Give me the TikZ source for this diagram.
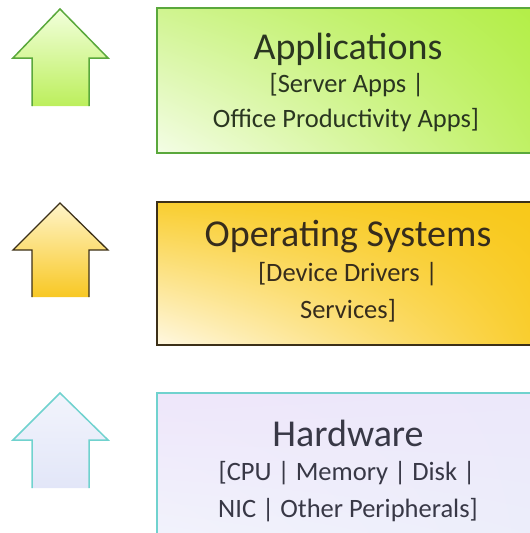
\documentclass[tikz,border=0pt]{standalone}
\usepackage{fontspec}
\setmainfont{Carlito}
\usetikzlibrary{shadings}
\definecolor{gborder}{HTML}{5AA83C}
\definecolor{oborder}{HTML}{3C3018}
\definecolor{bborder}{HTML}{70D2CE}
\definecolor{gtext}{HTML}{2A3620}
\definecolor{otext}{HTML}{362C1C}
\definecolor{btext}{HTML}{383846}
\definecolor{gUL}{HTML}{D0F490}
\definecolor{gUR}{HTML}{B2EE44}
\definecolor{gLR}{HTML}{BEF060}
\definecolor{gLL}{HTML}{F4FDE6}
\definecolor{oUL}{HTML}{F9CE30}
\definecolor{oUR}{HTML}{F8C818}
\definecolor{oLR}{HTML}{F9CC28}
\definecolor{oLL}{HTML}{FFF8E2}
\definecolor{bUL}{HTML}{EEE6FA}
\definecolor{bUR}{HTML}{ECE8FA}
\definecolor{bLR}{HTML}{ECEEFA}
\definecolor{bLL}{HTML}{F2F4FC}
\definecolor{gAT}{HTML}{F2FFDC}
\definecolor{gAB}{HTML}{BCEF5C}
\definecolor{oAT}{HTML}{FFF4C8}
\definecolor{oAB}{HTML}{F8C824}
\definecolor{bAT}{HTML}{F2F4FC}
\definecolor{bAB}{HTML}{E2E6F8}
\tikzset{
  layerbox/.style={rectangle, inner sep=0pt, line width=1.6pt},
  titletext/.style={inner sep=0pt, anchor=base, font=\fontsize{38}{44}\selectfont},
  subtext/.style={inner sep=0pt, anchor=base, font=\fontsize{26.5}{30}\selectfont},
  arrowline/.style={line width=1.5pt, line join=miter, line cap=butt}
}
\begin{document}
\begin{tikzpicture}[x=1pt,y=-1pt]
\useasboundingbox (0,0) rectangle (530,533);
\clip (0,0) rectangle (530,533);

% ---------- Applications ----------
\node[layerbox, draw=gborder, minimum width=390pt, minimum height=145pt,
      upper left=gUL, upper right=gUR, lower right=gLR, lower left=gLL] (appbox) at (352,80.5) {};
\node[titletext, text=gtext] (apptitle) at (348,59) {Applications};
\node[subtext, text=gtext] (appsub1) at (347,92) {[Server Apps |};
\node[subtext, text=gtext] (appsub2) at (346,127) {Office Productivity Apps]};

\shade[top color=gAT, bottom color=gAB]
  (32,106) -- (32,58) -- (13,58) -- (60,9) -- (108,58) -- (89,58) -- (89,106) -- cycle;
\draw[arrowline, draw=gborder]
  (32,106) -- (32,58) -- (13,58) -- (60,9) -- (108,58) -- (89,58) -- (89,106);

% ---------- Operating Systems ----------
\node[layerbox, draw=oborder, line width=1.3pt, minimum width=390pt, minimum height=143pt,
      upper left=oUL, upper right=oUR, lower right=oLR, lower left=oLL] (osbox) at (352,273.5) {};
\node[titletext, text=otext] (ostitle) at (348,246) {Operating Systems};
\node[subtext, text=otext] (ossub1) at (348,281) {[Device Drivers |};
\node[subtext, text=otext] (ossub2) at (348,318) {Services]};

\shade[top color=oAT, bottom color=oAB]
  (32,297) -- (32,250) -- (13,250) -- (60,203) -- (108,250) -- (89,250) -- (89,297) -- cycle;
\draw[arrowline, draw=oborder, line width=1.3pt]
  (32,297) -- (32,250) -- (13,250) -- (60,203) -- (108,250) -- (89,250) -- (89,297);

% ---------- Hardware ----------
\node[layerbox, draw=bborder, minimum width=390pt, minimum height=160pt,
      upper left=bUL, upper right=bUR, lower right=bLR, lower left=bLL] (hwbox) at (352,473) {};
\node[titletext, text=btext] (hwtitle) at (348,446) {Hardware};
\node[subtext, text=btext] (hwsub1) at (347,480) {[CPU | Memory | Disk |};
\node[subtext, text=btext] (hwsub2) at (348,517) {NIC | Other Peripherals]};

\shade[top color=bAT, bottom color=bAB]
  (32,488) -- (32,440) -- (13,440) -- (60,393) -- (108,440) -- (89,440) -- (89,488) -- cycle;
\draw[arrowline, draw=bborder]
  (32,488) -- (32,440) -- (13,440) -- (60,393) -- (108,440) -- (89,440) -- (89,488);
\end{tikzpicture}
\end{document}
